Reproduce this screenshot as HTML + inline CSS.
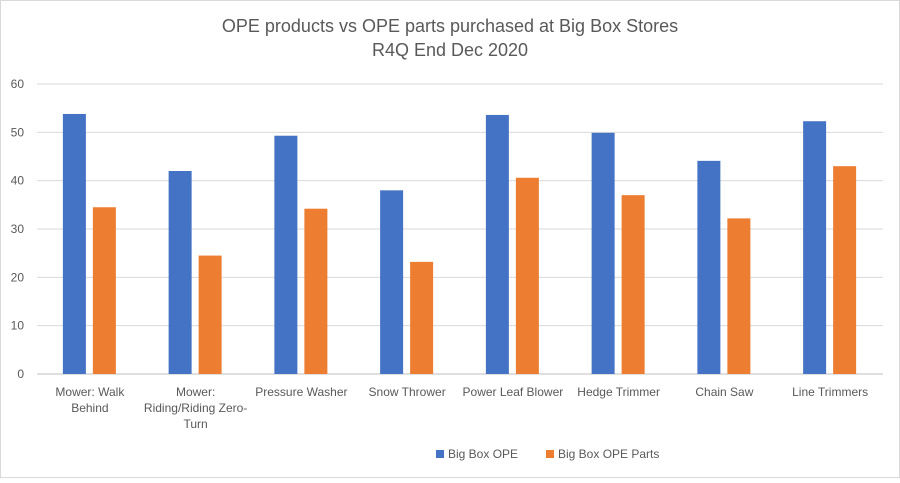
<!DOCTYPE html>
<html><head><meta charset="utf-8"><style>
body{margin:0;background:#fff}
svg text{font-family:"Liberation Sans",sans-serif}
</style></head><body>
<svg width="900" height="478" xmlns="http://www.w3.org/2000/svg">
<rect x="0.5" y="0.5" width="899" height="477" fill="#fff" stroke="#d9d9d9"/>
<text x="450" y="32" text-anchor="middle" font-size="18" fill="#595959">OPE products vs OPE parts purchased at Big Box Stores</text>
<text x="450" y="56" text-anchor="middle" font-size="18" fill="#595959">R4Q End Dec 2020</text>
<g id="grid"></g><g id="bars"></g><g id="labels"></g>
<g>
<rect x="436" y="450" width="8" height="8" fill="#4472c4"/>
<text x="448" y="458" font-size="12" fill="#595959">Big Box OPE</text>
<rect x="546" y="450" width="8" height="8" fill="#ed7d31"/>
<text x="558" y="458" font-size="12" fill="#595959">Big Box OPE Parts</text>
</g>
</svg>
<script>
const categories=[["Mower: Walk","Behind"],["Mower:","Riding/Riding Zero-","Turn"],["Pressure Washer"],["Snow Thrower"],["Power Leaf Blower"],["Hedge Trimmer"],["Chain Saw"],["Line Trimmers"]];
const opeValues=[53.8,42.0,49.3,38.0,53.6,49.9,44.1,52.3];
const partsValues=[34.5,24.5,34.2,23.2,40.6,37.0,32.2,43.0];
const yTicks=[0,10,20,30,40,50,60];
const NS="http://www.w3.org/2000/svg";
const x0=37,x1=883,yTop=84,yBot=374,yMax=60;
const y=v=>yBot-(v/yMax)*(yBot-yTop);
const band=(x1-x0)/categories.length;
function mk(t,a,p){const e=document.createElementNS(NS,t);for(const k in a)e.setAttribute(k,a[k]);document.getElementById(p).appendChild(e);return e;}
yTicks.forEach(t=>{
 const l=mk('line',{x1:x0,x2:x1,y1:y(t),y2:y(t),stroke:t===0?'#bfbfbf':'#d9d9d9','stroke-width':1},'grid');
 
 
 const tx=mk('text',{x:24,y:y(t)+4,'text-anchor':'end','font-size':12,fill:'#595959'},'grid');
 tx.textContent=t;
 
 
});
categories.forEach((c,i)=>{
 const cx=x0+band*(i+0.5);
 const b1=mk('rect',{x:cx-27,y:y(opeValues[i]),width:23,height:yBot-y(opeValues[i]),fill:'#4472c4'},'bars');
 
 
 const b2=mk('rect',{x:cx+3,y:y(partsValues[i]),width:23,height:yBot-y(partsValues[i]),fill:'#ed7d31'},'bars');
 
 
 c.forEach((line,j)=>{
  const t=mk('text',{x:cx,y:396+j*16,'text-anchor':'middle','font-size':12,fill:'#595959'},'labels');
  t.textContent=line;
  
  
 });
});
</script>
</body></html>
